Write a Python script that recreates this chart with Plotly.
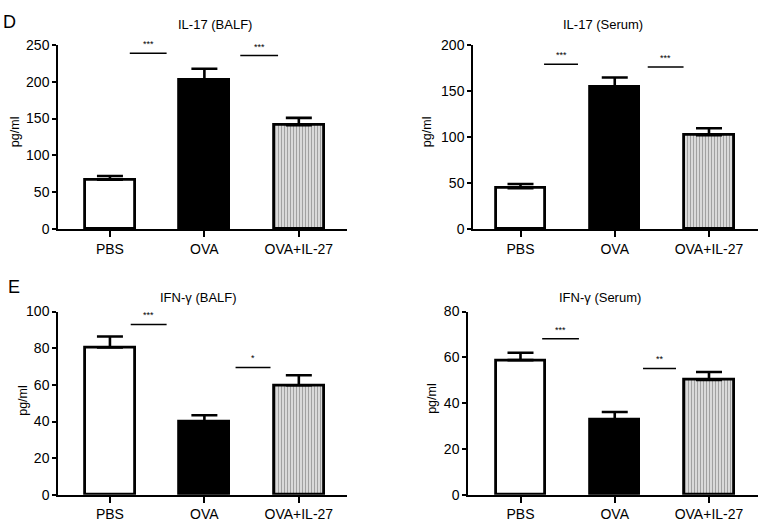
import plotly.graph_objects as go

# ---------------- data ----------------
groups = ["PBS", "OVA", "OVA+IL-27"]

il17_balf = [67, 203, 141]
il17_balf_err = [5, 14.5, 10]

il17_serum = [44.5, 154, 102]
il17_serum_err = [4.5, 10.5, 7.5]

ifng_balf = [80.4, 39.9, 59.8]
ifng_balf_err = [6, 3.5, 5.5]

ifng_serum = [58.8, 32.7, 50.2]
ifng_serum_err = [3.2, 3.5, 3.4]

# significance bars: (x start, x end, y, label)
sig_il17_balf = [(0.21, 0.60, 238.5, "***"), (1.38, 1.78, 235.5, "***")]
sig_il17_serum = [(0.25, 0.61, 179, "***"), (1.35, 1.73, 176, "***")]
sig_ifng_balf = [(0.22, 0.60, 93, "***"), (1.33, 1.70, 69.5, "*")]
sig_ifng_serum = [(0.23, 0.62, 68.1, "***"), (1.30, 1.65, 55.2, "**")]

titles = ["IL-17 (BALF)", "IL-17 (Serum)", "IFN-γ (BALF)", "IFN-γ (Serum)"]
ymax = [250, 200, 100, 80]
ydtick = [50, 50, 20, 20]
panel_letters = ["D", "E"]

# ---------------- layout helpers ----------------
W, H = 765, 531
FONT = "Liberation Sans, Arial, Helvetica, sans-serif"

def px_x(p):
    return p / W

def px_y(p):
    return 1 - p / H

panels = [
    dict(vals=il17_balf, err=il17_balf_err, sig=sig_il17_balf,
         xd=(58, 347), yd=(228, 38), xr=(-0.55, 2.51), bw=0.53, tx=215, ty=17, ylab=(15, 128)),
    dict(vals=il17_serum, err=il17_serum_err, sig=sig_il17_serum,
         xd=(473, 758), yd=(228, 38), xr=(-0.504, 2.52), bw=0.525, tx=603, ty=17, ylab=(427, 128)),
    dict(vals=ifng_balf, err=ifng_balf_err, sig=sig_ifng_balf,
         xd=(58, 347), yd=(502, 313), xr=(-0.55, 2.51), bw=0.53, tx=198, ty=298, ylab=(23, 405)),
    dict(vals=ifng_serum, err=ifng_serum_err, sig=sig_ifng_serum,
         xd=(468, 758), yd=(502, 313), xr=(-0.557, 2.52), bw=0.525, tx=600, ty=298, ylab=(432, 403)),
]

fig = go.Figure()
annotations = []
shapes = []

for i, p in enumerate(panels):
    n = i + 1
    xa = "x" if n == 1 else f"x{n}"
    ya = "y" if n == 1 else f"y{n}"
    fig.add_trace(go.Bar(
        x=[0, 1, 2], y=p["vals"], width=p["bw"],
        xaxis=xa, yaxis=ya,
        marker=dict(
            color=["white", "black", "white"],
            line=dict(color="black", width=2.8),
            pattern=dict(shape=["", "", "|"], fgcolor="black", bgcolor="white",
                         size=3, solidity=0.6, fillmode="overlay"),
        ),
        error_y=dict(type="data", symmetric=False, array=p["err"],
                     arrayminus=[0, 0, 0], color="black", thickness=2.6, width=13),
        showlegend=False, hoverinfo="skip",
    ))
    axis_common = dict(showline=True, linecolor="black", linewidth=1.5,
                       ticks="outside", tickcolor="black", tickwidth=1.5,
                       showgrid=False, zeroline=False,
                       tickfont=dict(family=FONT, size=14, color="black"))
    fig.update_layout(**{
        ("xaxis" if n == 1 else f"xaxis{n}"): dict(
            domain=[px_x(p["xd"][0]), px_x(p["xd"][1])], anchor=ya,
            range=list(p["xr"]), tickvals=[0, 1, 2], ticktext=groups,
            ticklen=6, ticklabelstandoff=0, **axis_common),
        ("yaxis" if n == 1 else f"yaxis{n}"): dict(
            domain=[px_y(p["yd"][0]), px_y(p["yd"][1])], anchor=xa,
            range=[0, ymax[i]], dtick=ydtick[i], ticklen=4, **axis_common),
    })
    annotations.append(dict(text=titles[i], x=px_x(p["tx"]), y=px_y(p["ty"]),
                            xref="paper", yref="paper", showarrow=False,
                            xanchor="center", yanchor="middle",
                            font=dict(family=FONT, size=13, color="black")))
    annotations.append(dict(text="pg/ml", x=px_x(p["ylab"][0]), y=px_y(p["ylab"][1]),
                            xref="paper", yref="paper", showarrow=False,
                            textangle=-90, xanchor="center", yanchor="middle",
                            font=dict(family=FONT, size=12.5, color="black")))
    for (x0, x1, yv, lab) in p["sig"]:
        shapes.append(dict(type="line", xref=xa, yref=ya, x0=x0, x1=x1, y0=yv, y1=yv,
                           line=dict(color="black", width=1.5)))
        annotations.append(dict(text=lab, xref=xa, yref=ya, x=(x0 + x1) / 2, y=yv,
                                yshift=9, showarrow=False, xanchor="center",
                                yanchor="middle",
                                font=dict(family=FONT, size=9, color="black")))

annotations.append(dict(text=panel_letters[0], x=px_x(1), y=px_y(14), xref="paper", yref="paper",
                        showarrow=False, xanchor="left", yanchor="middle",
                        font=dict(family=FONT, size=18, color="black")))
annotations.append(dict(text=panel_letters[1], x=px_x(6), y=px_y(288), xref="paper", yref="paper",
                        showarrow=False, xanchor="left", yanchor="middle",
                        font=dict(family=FONT, size=18, color="black")))

fig.update_layout(width=W, height=H, margin=dict(l=0, r=0, t=0, b=0),
                  paper_bgcolor="white", plot_bgcolor="white",
                  annotations=annotations, shapes=shapes, bargap=0)

fig.write_html("out.html", config={"displayModeBar": False},
               post_script="document.body.style.margin='0';document.body.style.overflow='hidden';")
